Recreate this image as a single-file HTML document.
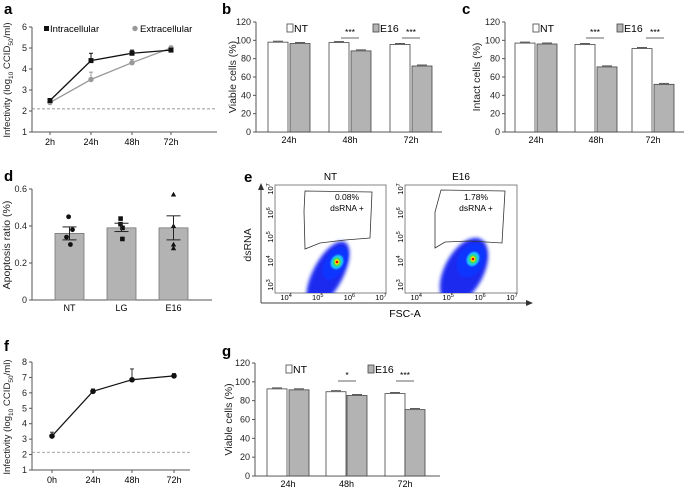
<!DOCTYPE html>
<html><head><meta charset="utf-8"><style>
body{margin:0;background:#fff;}
svg{display:block;font-family:"Liberation Sans",Arial,sans-serif;}
</style></head><body>
<svg id="fig" width="684" height="487" viewBox="0 0 684 487" xmlns="http://www.w3.org/2000/svg">
<defs>
<filter id="bl" x="-50%" y="-50%" width="200%" height="200%"><feGaussianBlur stdDeviation="1.8"/></filter>
<filter id="bl2" x="-50%" y="-50%" width="200%" height="200%"><feGaussianBlur stdDeviation="0.9"/></filter>
<clipPath id="cp0"><rect x="275" y="185" width="111" height="108"/></clipPath>
<clipPath id="cp1"><rect x="405" y="185" width="112" height="108"/></clipPath>
</defs>
</svg>
<script>
// Panel a
const aCats=["2h","24h","48h","72h"];
const aIntra=[2.5,4.4,4.75,4.9];
const aIntraErr=[0.05,0.35,0.15,0.05];
const aExtra=[2.4,3.5,4.3,5.0];
const aExtraErr=[0.05,0.35,0.15,0.1];
const aTicks=[1,2,3,4,5,6];
// Panel b
const bCats=["24h","48h","72h"];
const bNT=[98,97.5,95.5];
const bE16=[96.5,88.5,72];
const bTicks=[0,20,40,60,80,100,120];
// Panel c
const cNT=[97,95.5,91];
const cE16=[96,71,52];
// Panel d
const dCats=["NT","LG","E16"];
const dMeans=[0.36,0.39,0.39];
const dLo=[0.325,0.37,0.325];
const dHi=[0.395,0.415,0.455];
const dPts=[[0.45,0.38,0.34,0.30],[0.44,0.41,0.39,0.33],[0.57,0.40,0.30,0.28]];
const dTicks=[0,0.2,0.4,0.6];
// Panel f
const fCats=["0h","24h","48h","72h"];
const fVals=[3.2,6.1,6.85,7.1];
const fErr=[0.25,0.15,0.7,0.15];
const fTicks=[1,2,3,4,5,6,7,8];
// Panel g
const gNT=[92.5,89.5,87.5];
const gE16=[91.5,85.5,70.5];

const NS="http://www.w3.org/2000/svg";
const svg=document.getElementById('fig');
function el(tag,attrs,parent,txt){const e=document.createElementNS(NS,tag);for(const k in attrs)e.setAttribute(k,attrs[k]);if(txt!==undefined)e.textContent=txt;(parent||svg).appendChild(e);return e;}
function grp(name){const g=el('g',{});return g;}
function lin(d0,d1,r0,r1){return v=>r0+(v-d0)/(d1-d0)*(r1-r0);}
function letter(t,x,y){const e=el('text',{x:x,y:y,'font-size':15,'font-weight':'bold'},svg,t);}
function yAxis(g,x,y,ticks,fmt,y0,y1,xEnd){
  el('line',{x1:x,y1:y(ticks[ticks.length-1]),x2:x,y2:y1,stroke:'#555','stroke-width':1},g);
  ticks.forEach(t=>{el('line',{x1:x-3,x2:x,y1:y(t),y2:y(t),stroke:'#555'},g);
    const tx=el('text',{x:x-5,y:y(t)+3,'font-size':9,'text-anchor':'end',fill:'#222'},g,fmt(t));
    });
  el('line',{x1:x,y1:y1,x2:xEnd,y2:y1,stroke:'#555','stroke-width':1},g);
}
function yTitle(g,x,y,html,fs){const t=el('text',{transform:`translate(${x},${y}) rotate(-90)`,'font-size':fs||10.5,'text-anchor':'middle',fill:'#222'},g);t.innerHTML=html;return t;}

// ---------- Panel a ----------
letter('a',4,14);
(function(){const g=grp('panel-a-line-chart');
 const y=lin(1,6,132,27);const xs=[50,91,132,171];
 yAxis(g,32,y,aTicks,String,0,132,217);
 xs.forEach((x,i)=>{el('line',{x1:x,x2:x,y1:132,y2:135,stroke:'#555'},g);const t=el('text',{x:x,y:145,'font-size':9,'text-anchor':'middle'},g,aCats[i]);});
 el('line',{x1:32,x2:217,y1:y(2.1),y2:y(2.1),stroke:'#777','stroke-dasharray':'3,2','stroke-width':0.8},g);
 yTitle(g,10,80,'Infectivity (log<tspan font-size="6.5" dy="3">10</tspan><tspan dy="-3"> CCID</tspan><tspan font-size="6.5" dy="3">50</tspan><tspan dy="-3">/ml)</tspan>',9.6);
 [[aExtra,aExtraErr,'#999','extra'],[aIntra,aIntraErr,'#111','intra']].forEach(([v,e,c,n])=>{
  el('polyline',{points:v.map((d,i)=>xs[i]+','+y(d)).join(' '),fill:'none',stroke:c,'stroke-width':1.3},g);
  v.forEach((d,i)=>{el('line',{x1:xs[i],x2:xs[i],y1:y(d),y2:y(d+e[i]),stroke:c},g);el('line',{x1:xs[i]-2,x2:xs[i]+2,y1:y(d+e[i]),y2:y(d+e[i]),stroke:c},g);
   let m;if(n==='intra')m=el('rect',{x:xs[i]-2.5,y:y(d)-2.5,width:5,height:5,fill:c},g);else m=el('circle',{cx:xs[i],cy:y(d),r:2.7,fill:c},g);
   });
 });
 el('rect',{x:44,y:26,width:5,height:5,fill:'#111'},g);el('text',{x:50,y:32,'font-size':9.5},g,'Intracellular');
 el('circle',{cx:135,cy:28.5,r:2.7,fill:'#999'},g);el('text',{x:140,y:32,'font-size':9.5},g,'Extracellular');
})();

// bar panel helper
function barPanel(name,ax,xEnd,nt,e16,ntX,e16X,title,titleX,legNT,legE,stars,starsX,starY,top,bot){
 const g=grp(name);const y=lin(0,120,bot,top);
 yAxis(g,ax,y,bTicks,String,0,bot,xEnd);
 yTitle(g,titleX,(top+bot)/2,title);
 bCats.forEach((c,i)=>{
  [[nt,ntX,'#fff','nt'],[e16,e16X,'#b3b3b3','e16']].forEach(([v,xa,f,n])=>{
   const r=el('rect',{x:xa[i],y:y(v[i]),width:20,height:bot-y(v[i]),fill:f,stroke:'#444','stroke-width':0.8},g);
   
   el('line',{x1:xa[i]+5,x2:xa[i]+15,y1:y(v[i])-1,y2:y(v[i])-1,stroke:'#333','stroke-width':0.8},g);
  });
  const cx=(ntX[i]+e16X[i]+20)/2;
  el('text',{x:cx,y:bot+11,'font-size':9,'text-anchor':'middle'},g,c);
  if(stars[i]){el('text',{x:starsX[i],y:starY,'font-size':8.5,'text-anchor':'middle'},g,stars[i]);
   el('line',{x1:starsX[i]-9,x2:starsX[i]+9,y1:starY+3,y2:starY+3,stroke:'#333','stroke-width':0.8},g);}
 });
 el('rect',{x:legNT,y:top+2,width:6,height:8,fill:'#fff',stroke:'#444','stroke-width':0.8},g);el('text',{x:legNT+7,y:top+10,'font-size':10.5},g,'NT');
 el('rect',{x:legE,y:top+2,width:6,height:8,fill:'#b3b3b3',stroke:'#444','stroke-width':0.8},g);el('text',{x:legE+7,y:top+10,'font-size':10.5},g,'E16');
}
letter('b',222,14);
barPanel('panel-b-viable-cells',256,442,bNT,bE16,[268,329,390],[290,351,412],'Viable cells (%)',236,287,373,['','***','***'],[0,350,411],35,22,132);
letter('c',462,14);
barPanel('panel-c-intact-cells',505,684,cNT,cE16,[515,575,632],[537,597,654],'Intact cells (%)',480,533,617,['','***','***'],[0,595,655],35,22,132);

// ---------- Panel d ----------
letter('d',4,181);
(function(){const g=grp('panel-d-apoptosis');const y=lin(0,0.6,300,189);
 yAxis(g,32,y,dTicks,t=>t===0?'0':t.toFixed(1),0,300,212);
 yTitle(g,10,245,'Apoptosis ratio (%)');
 const xs=[55,107,159];
 dCats.forEach((c,i)=>{const r=el('rect',{x:xs[i],y:y(dMeans[i]),width:29,height:300-y(dMeans[i]),fill:'#b3b3b3',stroke:'#777','stroke-width':0.8},g);
  
  const cx=xs[i]+14.5;
  el('text',{x:cx,y:311,'font-size':9,'text-anchor':'middle'},g,c);
  dPts[i].forEach((p,j)=>{const ox=(j%2?3:-3)*(j===0||j===3?0.3:1);let m;
   if(i===0)m=el('circle',{cx:cx+ox,cy:y(p),r:2.4,fill:'#111'},g);
   else if(i===1)m=el('rect',{x:cx+ox-2.3+(j===1?-4:j===2?4:0),y:y(p)-2.3,width:4.6,height:4.6,fill:'#111'},g);
   else m=el('polygon',{points:`${cx},${y(p)-2.8} ${cx-2.7},${y(p)+2} ${cx+2.7},${y(p)+2}`,fill:'#111'},g);
   });
  el('line',{x1:cx,x2:cx,y1:y(dLo[i]),y2:y(dHi[i]),stroke:'#222'},g);
  el('line',{x1:cx-7,x2:cx+7,y1:y(dLo[i]),y2:y(dLo[i]),stroke:'#222'},g);
  el('line',{x1:cx-7,x2:cx+7,y1:y(dHi[i]),y2:y(dHi[i]),stroke:'#222'},g);
 });
})();

// ---------- Panel e ----------
letter('e',244,182);
(function(){const g=grp('panel-e-flow-cytometry');
 el('line',{x1:261,y1:303,x2:261,y2:188,stroke:'#444'},g);el('polygon',{points:'258,190 264,190 261,183',fill:'#333'},g);
 el('line',{x1:261,y1:303,x2:528,y2:303,stroke:'#444'},g);el('polygon',{points:'526,300 526,306 533,303',fill:'#333'},g);
 yTitle(g,251,245,'dsRNA');
 el('text',{x:405,y:317,'font-size':10.5,'text-anchor':'middle'},g,'FSC-A');
 const plots=[{x0:275,x1:386,t:'NT',pct:'0.08%',cx:337,cy:262,gate:'305,191 372,192 370,238 345,240 320,243 305,249 304,211',s:1,cp:'cp0',tx:347},
              {x0:405,x1:517,t:'E16',pct:'1.78%',cx:473,cy:259,gate:'441,190 505,191 502,243 470,241 445,242 435,248 435,212',s:1.3,cp:'cp1',tx:476}];
 plots.forEach(p=>{const pg=el('g',{},g);
  el('rect',{x:p.x0,y:185,width:p.x1-p.x0,height:108,fill:'#fff',stroke:'#666','stroke-width':0.8},pg);
  el('text',{x:(p.x0+p.x1)/2,y:180,'font-size':10,'text-anchor':'middle'},pg,p.t);
  const w=p.x1-p.x0;
  [4,5,6,7].forEach((e,i)=>{const x=p.x0+w*(0.1+i*0.285);const t=el('text',{x:x,y:300,'font-size':7.5,'text-anchor':'middle'},pg);t.innerHTML='10<tspan font-size="5.5" dy="-3">'+e+'</tspan>';});
  [3,4,5,6,7].forEach((e,i)=>{const yy=285-i*24;const t=el('text',{transform:`translate(${p.x0-2},${yy}) rotate(-90)`,'font-size':7.5,'text-anchor':'middle'},pg);t.innerHTML='10<tspan font-size="5.5" dy="-3">'+e+'</tspan>';});
  const clip=el('g',{'clip-path':'url(#'+p.cp+')'},pg);
  el('ellipse',{cx:p.cx-9,cy:p.cy+12,rx:15*p.s,ry:36,transform:`rotate(28 ${p.cx-9} ${p.cy+12})`,fill:'#1a2bf0',filter:'url(#bl)'},clip);
  el('ellipse',{cx:p.cx-1,cy:p.cy+2,rx:10*p.s,ry:18,transform:`rotate(30 ${p.cx} ${p.cy})`,fill:'#0a36ff',filter:'url(#bl2)'},clip);
  el('ellipse',{cx:p.cx,cy:p.cy,rx:6,ry:7.5,transform:`rotate(30 ${p.cx} ${p.cy})`,fill:'#1ec8ff',filter:'url(#bl2)'},clip);
  el('ellipse',{cx:p.cx,cy:p.cy,rx:4,ry:4.5,fill:'#46e046',filter:'url(#bl2)'},clip);
  el('ellipse',{cx:p.cx,cy:p.cy,rx:2.4,ry:2.7,fill:'#ffe000'},clip);
  el('circle',{cx:p.cx,cy:p.cy,r:1.3,fill:'#e00000'},clip);
  el('polygon',{points:p.gate,fill:'none',stroke:'#333','stroke-width':0.8},pg);
  el('text',{x:p.tx,y:200,'font-size':8.5,'text-anchor':'middle'},pg,p.pct);
  el('text',{x:p.tx,y:211,'font-size':8.5,'text-anchor':'middle'},pg,'dsRNA +');
 });
})();

// ---------- Panel f ----------
letter('f',4,351);
(function(){const g=grp('panel-f-line-chart');const y=lin(1,8,470,362);const xs=[52,93,132,174];
 yAxis(g,32,y,fTicks,String,0,470,190);
 xs.forEach((x,i)=>{el('line',{x1:x,x2:x,y1:470,y2:473,stroke:'#555'},g);el('text',{x:x,y:483,'font-size':9,'text-anchor':'middle'},g,fCats[i]);});
 el('line',{x1:32,x2:190,y1:y(2.15),y2:y(2.15),stroke:'#888','stroke-dasharray':'3,2','stroke-width':0.8},g);
 yTitle(g,10,417,'Infectivity (log<tspan font-size="6.5" dy="3">10</tspan><tspan dy="-3"> CCID</tspan><tspan font-size="6.5" dy="3">50</tspan><tspan dy="-3">/ml)</tspan>',9.6);
 el('polyline',{points:fVals.map((d,i)=>xs[i]+','+y(d)).join(' '),fill:'none',stroke:'#111','stroke-width':1.2},g);
 fVals.forEach((d,i)=>{el('line',{x1:xs[i],x2:xs[i],y1:y(d),y2:y(d+fErr[i]),stroke:'#333'},g);el('line',{x1:xs[i]-2,x2:xs[i]+2,y1:y(d+fErr[i]),y2:y(d+fErr[i]),stroke:'#333'},g);
  const m=el('circle',{cx:xs[i],cy:y(d),r:2.8,fill:'#111'},g);});
})();

// ---------- Panel g ----------
letter('g',222,356);
barPanel('panel-g-viable-cells',255,440,gNT,gE16,[267,326,385],[289,347,405],'Viable cells (%)',232,286,368,['','*','***'],[0,347,405],378,363,476);
</script>
</body></html>
